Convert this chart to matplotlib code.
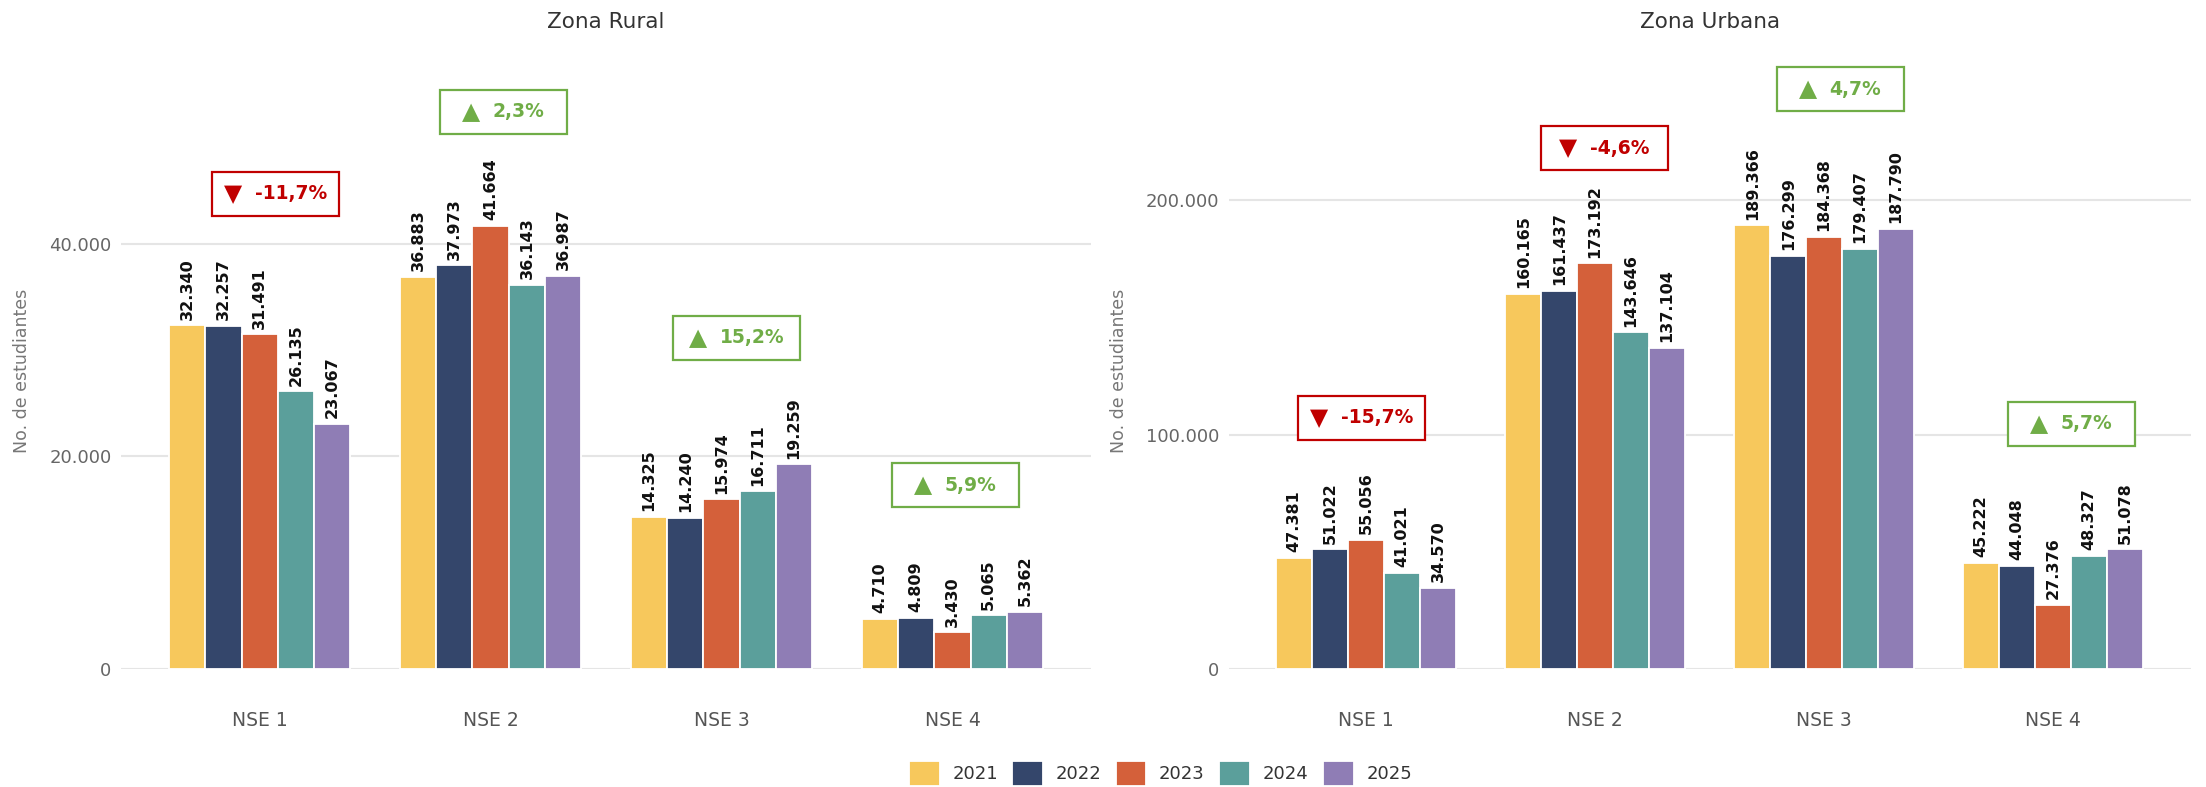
import numpy as np
import matplotlib
matplotlib.use("Agg")
import matplotlib.pyplot as plt
from matplotlib.patches import Rectangle
from matplotlib import transforms
from matplotlib.offsetbox import TextArea, HPacker, AnnotationBbox
from matplotlib.ticker import FuncFormatter

# data
categories = ['NSE 1', 'NSE 2', 'NSE 3', 'NSE 4']
years = ['2021', '2022', '2023', '2024', '2025']
colors = ['#F7C85C', '#34466B', '#D4603A', '#5B9F9B', '#8F7DB5']

rural_2021 = [32340, 36883, 14325, 4710]
rural_2022 = [32257, 37973, 14240, 4809]
rural_2023 = [31491, 41664, 15974, 3430]
rural_2024 = [26135, 36143, 16711, 5065]
rural_2025 = [23067, 36987, 19259, 5362]

urban_2021 = [47381, 160165, 189366, 45222]
urban_2022 = [51022, 161437, 176299, 44048]
urban_2023 = [55056, 173192, 184368, 27376]
urban_2024 = [41021, 143646, 179407, 48327]
urban_2025 = [34570, 137104, 187790, 51078]

rural_change = [-11.7, 2.3, 15.2, 5.9]
urban_change = [-15.7, -4.6, 4.7, 5.7]

# where the change boxes sit (category offset, y in data units)
rural_box = [(0.07, 44700), (0.056, 52400), (0.065, 31150), (0.013, 17300)]
urban_box = [(-0.02, 107300), (0.04, 222200), (0.07, 247400), (0.08, 104700)]

plt.rcParams['font.family'] = ['DejaVu Sans']

UP = '#70AD47'
DOWN = '#C00000'


def thousands(v):
    return f"{v:,.0f}".replace(',', '.')


fig = plt.figure(figsize=(22.06, 7.87), dpi=100)
ax_r = fig.add_axes([0.0549, 0.150, 0.4397, 0.774])
ax_u = fig.add_axes([0.557, 0.150, 0.436, 0.774])


def draw(ax, title, series, change, boxes, ymax, yticks, ylabel_x):
    x = np.arange(len(categories))
    w = 0.157
    for i, (yr, vals) in enumerate(zip(years, series)):
        bars = ax.bar(x + (i - 2) * w, vals, w, color=colors[i],
                      edgecolor='white', linewidth=1.3, label=yr, zorder=2)
        ax.bar_label(bars, labels=[thousands(v) for v in vals], rotation=90,
                     padding=4, fontsize=11.5, fontweight='bold', color='#111111')

    ax.set_xlim(-0.6, 3.6)
    ax.set_ylim(0, ymax)
    ax.set_yticks(yticks)
    ax.yaxis.set_major_formatter(FuncFormatter(lambda v, p: thousands(v)))
    ax.set_xticks(x)
    ax.set_xticklabels(categories)
    ax.grid(axis='y', color='#E5E5E5', linewidth=1.5, zorder=0)
    ax.set_axisbelow(True)
    for s in ax.spines.values():
        s.set_visible(False)
    ax.tick_params(axis='both', length=0)
    ax.tick_params(axis='y', labelsize=13, labelcolor='#666666', pad=7)
    ax.tick_params(axis='x', labelsize=13.5, labelcolor='#555555', pad=30)
    ax.set_ylabel('No. de estudiantes', fontsize=12.5, color='#777777')
    ax.yaxis.set_label_coords(ylabel_x, 0.49)
    ax.set_title(title, fontsize=15.5, color='#333333', pad=23)

    for k, (dx, yc) in enumerate(boxes):
        xc = x[k] + dx
        col = UP if change[k] >= 0 else DOWN
        tri = '▲' if change[k] >= 0 else '▼'
        trans = fig.dpi_scale_trans + transforms.ScaledTranslation(xc, yc, ax.transData)
        ax.add_patch(Rectangle((-0.635, -0.22), 1.27, 0.44, facecolor='white',
                               edgecolor=col, linewidth=1.6, transform=trans,
                               clip_on=False, zorder=4))
        txt = f"{change[k]:.1f}%".replace('.', ',')
        pack = HPacker(children=[
            TextArea(tri, textprops=dict(color=col, fontsize=17)),
            TextArea(txt, textprops=dict(color=col, fontsize=13.5, fontweight='bold')),
        ], sep=9, align='center', pad=0)
        ab = AnnotationBbox(pack, (xc, yc), xycoords='data', frameon=False,
                            box_alignment=(0.5, 0.5), zorder=5)
        ax.add_artist(ab)


draw(ax_r, 'Zona Rural',
     [rural_2021, rural_2022, rural_2023, rural_2024, rural_2025],
     rural_change, rural_box, 57300, [0, 20000, 40000], -0.093)
draw(ax_u, 'Zona Urbana',
     [urban_2021, urban_2022, urban_2023, urban_2024, urban_2025],
     urban_change, urban_box, 260000, [0, 100000, 200000], -0.105)

handles, labels = ax_r.get_legend_handles_labels()
fig.legend(handles, labels, loc='center', bbox_to_anchor=(0.526, 0.017), ncol=5,
           frameon=False, fontsize=13, handlelength=1.7, handleheight=1.7,
           handletextpad=0.7, columnspacing=0.8, labelcolor='#333333')

fig.savefig('out.png', dpi=100, facecolor='white')
